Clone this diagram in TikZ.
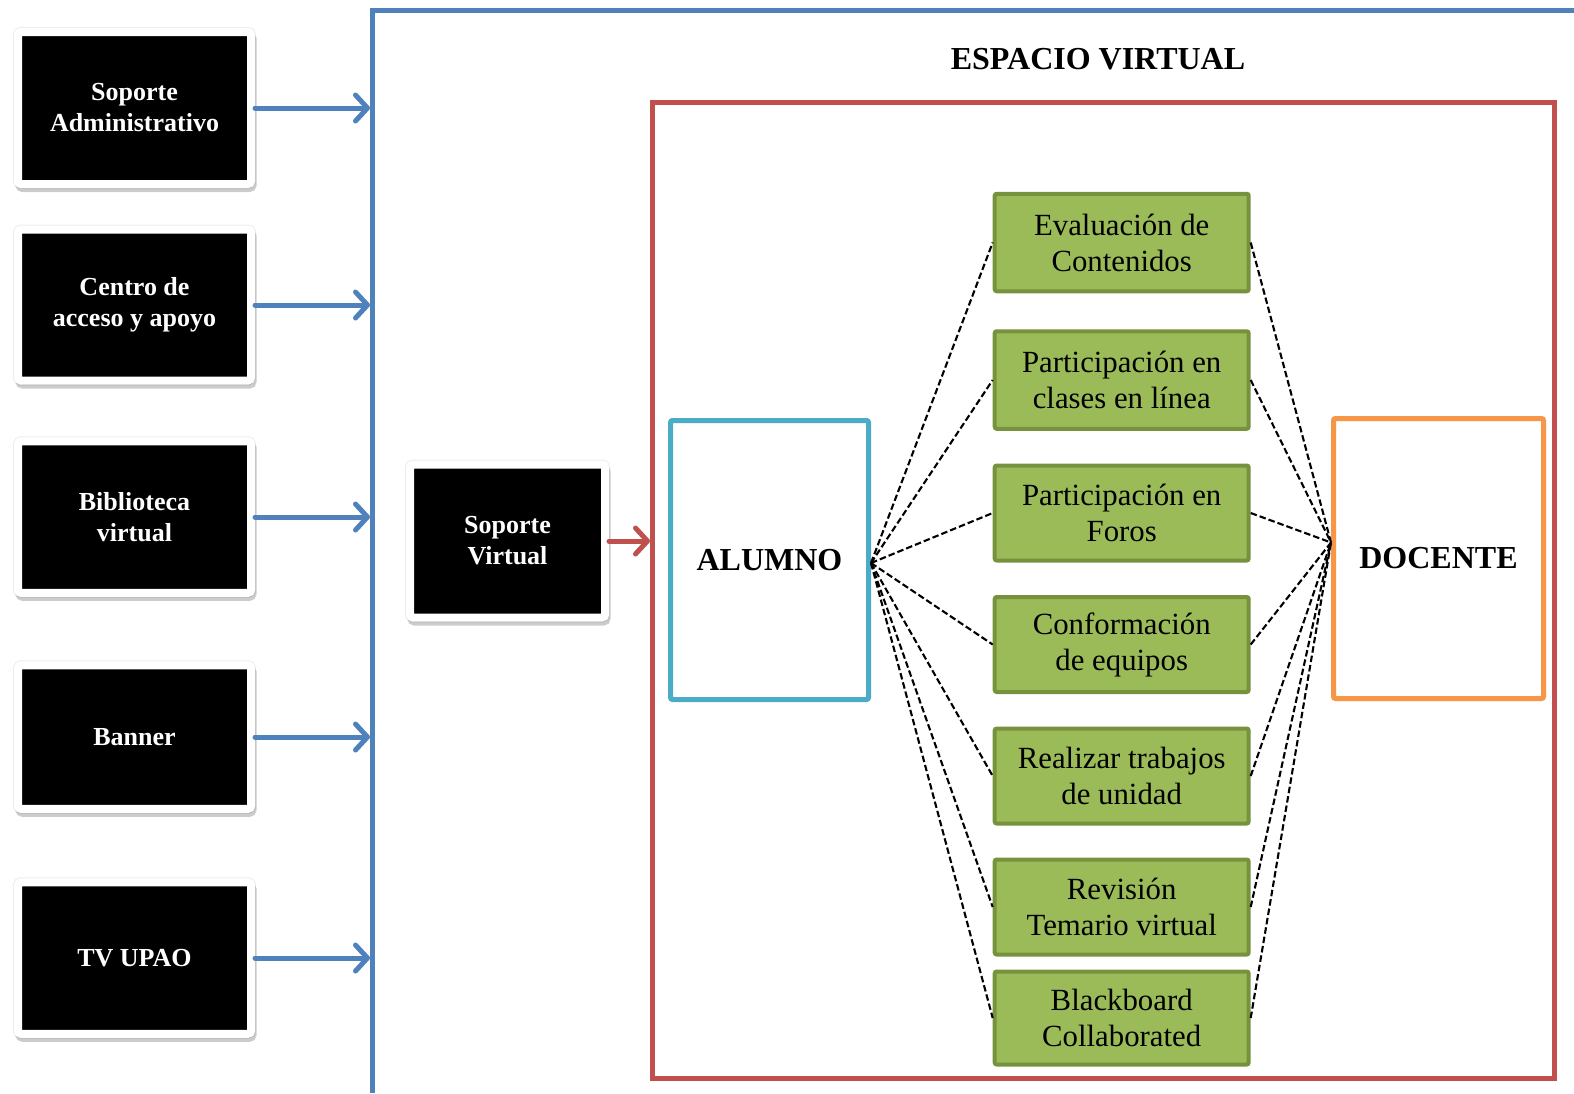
\documentclass[tikz,border=0pt]{standalone}
\usepackage{fontspec}
\setmainfont{Liberation Serif}
\usetikzlibrary{arrows.meta,shadows}
\definecolor{frameblue}{HTML}{4F81BD}
\definecolor{framered}{HTML}{C0504D}
\definecolor{boxcyan}{HTML}{4BACC6}
\definecolor{boxorange}{HTML}{F79646}
\definecolor{leafgreen}{HTML}{9BBB59}
\definecolor{leafborder}{HTML}{76923C}
\begin{document}
\begin{tikzpicture}[x=1pt,y=-1pt,
  service/.style={fill=black, draw=white, line width=8pt, rounded corners=3pt,
    text=white, font=\fontsize{26}{31}\selectfont\bfseries, align=center,
    minimum width=233pt, inner sep=0pt,
    general shadow={shadow xshift=0pt, shadow yshift=0pt, fill=black, draw=black,
      line width=10pt, opacity=0.07},
    general shadow={shadow xshift=1.5pt, shadow yshift=-4pt, fill=black, draw=black,
      line width=8pt, opacity=0.2}},
  activity/.style={fill=leafgreen, draw=leafborder, line width=4pt, rounded corners=2pt,
    font=\fontsize{30.8}{36}\selectfont, align=center,
    minimum width=254pt, minimum height=95pt, inner sep=0pt},
  actor/.style={fill=white, line width=5pt, rounded corners=2pt,
    font=\fontsize{32}{38}\selectfont\bfseries, inner sep=0pt},
  feed/.style={frameblue, line width=5pt, line cap=round,
    -{Straight Barb[length=12pt, width=26pt, line cap=round, line join=round]}},
  link/.style={black, line width=2.1pt, dash pattern=on 6.5pt off 3pt},
]
\useasboundingbox (0,0) rectangle (1574,1093);

% outer blue frame (open to the right and to the bottom)
\draw[frameblue, line width=5pt] (1574,10) -- (372.5,10) -- (372.5,1093);
\coordinate (portal) at (370,0);

% support services
\node[service, minimum height=152pt] (s1) at (134.5,108) {Soporte\\Administrativo};
\node[service, minimum height=151pt] (s2) at (134.5,305) {Centro de\\acceso y apoyo};
\node[service, minimum height=151.5pt] (s3) at (134.5,517) {Biblioteca\\virtual};
\node[service, minimum height=143.5pt] (s4) at (134.5,737) {Banner};
\node[service, minimum height=151.5pt] (s5) at (134.5,958) {TV UPAO};

\foreach \s in {s1,s2,s3,s4,s5}
  \draw[feed] (\s.east) -- (\s.east -| portal);

% virtual space
\node[draw=framered, line width=5pt, minimum width=901.5pt, minimum height=975.5pt,
  inner sep=0pt] (espacio) at (1103.25,590.25) {};
\node[font=\fontsize{32}{38}\selectfont\bfseries] (title) at (1098,59) {ESPACIO VIRTUAL};

\node[service, minimum width=195pt, minimum height=153pt] (sv) at (507.5,541) {Soporte\\Virtual};
\draw[feed, framered] (sv.east) -- (sv.east -| espacio.west);

% actors
\node[actor, draw=boxcyan, minimum width=198pt, minimum height=279pt] (alumno) at (769.5,560) {ALUMNO};
\node[actor, draw=boxorange, minimum width=210pt, minimum height=280pt] (docente) at (1438.5,558.5) {DOCENTE};

% activities
\node[activity, minimum height=97.5pt] (g1) at (1121.7,242.5) {Evaluación de\\Contenidos};
\node[activity, minimum height=97.5pt] (g2) at (1121.7,380) {Participación en\\clases en línea};
\node[activity] (g3) at (1121.7,513) {Participación en\\Foros};
\node[activity] (g4) at (1121.7,644.5) {Conformación\\de equipos};
\node[activity] (g5) at (1121.7,776) {Realizar trabajos\\de unidad};
\node[activity] (g6) at (1121.7,907) {Revisión\\Temario virtual};
\node[activity, minimum height=93pt] (g7) at (1121.7,1018) {Blackboard\\Collaborated};

\foreach \g in {g1,g2,g3,g4,g5,g6,g7} {
  \draw[link] ([yshift=-3pt]alumno.east) -- (\g.west);
  \draw[link] (\g.east) -- ([yshift=16pt]docente.west);
}
\end{tikzpicture}
\end{document}
